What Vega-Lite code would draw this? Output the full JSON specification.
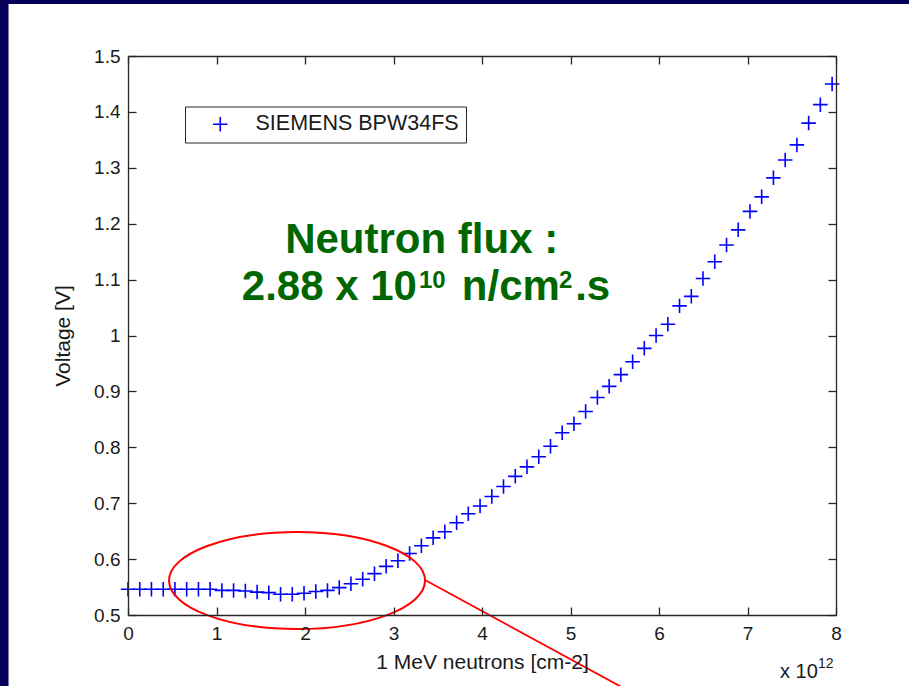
{
  "$schema": "https://vega.github.io/schema/vega-lite/v6.json",
  "width": 708,
  "height": 559,
  "autosize": {"type": "none"},
  "padding": {"left": 128, "top": 56, "right": 73, "bottom": 71},
  "background": "#07005a",
  "config": {
    "view": {"stroke": null},
    "font": "Liberation Sans",
    "axis": {
      "grid": false,
      "labelFlush": false,
      "domainColor": "#262626",
      "domainWidth": 1.3,
      "tickColor": "#262626",
      "tickWidth": 1.3,
      "tickSize": -8,
      "labelFont": "Liberation Sans",
      "labelFontSize": 19,
      "labelColor": "#1a1a1a",
      "titleFont": "Liberation Sans",
      "titleFontSize": 21,
      "titleFontWeight": "normal",
      "titleColor": "#1a1a1a"
    }
  },
  "datasets": {
    "measurements": [
      {"series": "SIEMENS BPW34FS", "fluence": 0.000, "voltage": 0.546},
      {"series": "SIEMENS BPW34FS", "fluence": 0.133, "voltage": 0.546},
      {"series": "SIEMENS BPW34FS", "fluence": 0.265, "voltage": 0.546},
      {"series": "SIEMENS BPW34FS", "fluence": 0.398, "voltage": 0.546},
      {"series": "SIEMENS BPW34FS", "fluence": 0.530, "voltage": 0.546},
      {"series": "SIEMENS BPW34FS", "fluence": 0.663, "voltage": 0.546},
      {"series": "SIEMENS BPW34FS", "fluence": 0.796, "voltage": 0.546},
      {"series": "SIEMENS BPW34FS", "fluence": 0.928, "voltage": 0.546},
      {"series": "SIEMENS BPW34FS", "fluence": 1.061, "voltage": 0.544},
      {"series": "SIEMENS BPW34FS", "fluence": 1.193, "voltage": 0.544},
      {"series": "SIEMENS BPW34FS", "fluence": 1.326, "voltage": 0.543},
      {"series": "SIEMENS BPW34FS", "fluence": 1.459, "voltage": 0.541},
      {"series": "SIEMENS BPW34FS", "fluence": 1.591, "voltage": 0.540},
      {"series": "SIEMENS BPW34FS", "fluence": 1.724, "voltage": 0.537},
      {"series": "SIEMENS BPW34FS", "fluence": 1.856, "voltage": 0.537},
      {"series": "SIEMENS BPW34FS", "fluence": 1.989, "voltage": 0.539},
      {"series": "SIEMENS BPW34FS", "fluence": 2.122, "voltage": 0.542},
      {"series": "SIEMENS BPW34FS", "fluence": 2.254, "voltage": 0.544},
      {"series": "SIEMENS BPW34FS", "fluence": 2.387, "voltage": 0.549},
      {"series": "SIEMENS BPW34FS", "fluence": 2.519, "voltage": 0.556},
      {"series": "SIEMENS BPW34FS", "fluence": 2.652, "voltage": 0.564},
      {"series": "SIEMENS BPW34FS", "fluence": 2.785, "voltage": 0.574},
      {"series": "SIEMENS BPW34FS", "fluence": 2.917, "voltage": 0.587},
      {"series": "SIEMENS BPW34FS", "fluence": 3.050, "voltage": 0.597},
      {"series": "SIEMENS BPW34FS", "fluence": 3.182, "voltage": 0.610},
      {"series": "SIEMENS BPW34FS", "fluence": 3.315, "voltage": 0.624},
      {"series": "SIEMENS BPW34FS", "fluence": 3.448, "voltage": 0.638},
      {"series": "SIEMENS BPW34FS", "fluence": 3.580, "voltage": 0.649},
      {"series": "SIEMENS BPW34FS", "fluence": 3.713, "voltage": 0.665},
      {"series": "SIEMENS BPW34FS", "fluence": 3.845, "voltage": 0.681},
      {"series": "SIEMENS BPW34FS", "fluence": 3.978, "voltage": 0.695},
      {"series": "SIEMENS BPW34FS", "fluence": 4.111, "voltage": 0.712},
      {"series": "SIEMENS BPW34FS", "fluence": 4.243, "voltage": 0.730},
      {"series": "SIEMENS BPW34FS", "fluence": 4.376, "voltage": 0.748},
      {"series": "SIEMENS BPW34FS", "fluence": 4.508, "voltage": 0.765},
      {"series": "SIEMENS BPW34FS", "fluence": 4.641, "voltage": 0.783},
      {"series": "SIEMENS BPW34FS", "fluence": 4.774, "voltage": 0.802},
      {"series": "SIEMENS BPW34FS", "fluence": 4.906, "voltage": 0.826},
      {"series": "SIEMENS BPW34FS", "fluence": 5.039, "voltage": 0.842},
      {"series": "SIEMENS BPW34FS", "fluence": 5.171, "voltage": 0.864},
      {"series": "SIEMENS BPW34FS", "fluence": 5.304, "voltage": 0.889},
      {"series": "SIEMENS BPW34FS", "fluence": 5.437, "voltage": 0.909},
      {"series": "SIEMENS BPW34FS", "fluence": 5.569, "voltage": 0.930},
      {"series": "SIEMENS BPW34FS", "fluence": 5.702, "voltage": 0.953},
      {"series": "SIEMENS BPW34FS", "fluence": 5.834, "voltage": 0.977},
      {"series": "SIEMENS BPW34FS", "fluence": 5.967, "voltage": 1.000},
      {"series": "SIEMENS BPW34FS", "fluence": 6.100, "voltage": 1.020},
      {"series": "SIEMENS BPW34FS", "fluence": 6.232, "voltage": 1.053},
      {"series": "SIEMENS BPW34FS", "fluence": 6.365, "voltage": 1.070},
      {"series": "SIEMENS BPW34FS", "fluence": 6.497, "voltage": 1.102},
      {"series": "SIEMENS BPW34FS", "fluence": 6.630, "voltage": 1.132},
      {"series": "SIEMENS BPW34FS", "fluence": 6.763, "voltage": 1.162},
      {"series": "SIEMENS BPW34FS", "fluence": 6.895, "voltage": 1.189},
      {"series": "SIEMENS BPW34FS", "fluence": 7.028, "voltage": 1.222},
      {"series": "SIEMENS BPW34FS", "fluence": 7.160, "voltage": 1.248},
      {"series": "SIEMENS BPW34FS", "fluence": 7.293, "voltage": 1.282},
      {"series": "SIEMENS BPW34FS", "fluence": 7.426, "voltage": 1.314},
      {"series": "SIEMENS BPW34FS", "fluence": 7.558, "voltage": 1.341},
      {"series": "SIEMENS BPW34FS", "fluence": 7.691, "voltage": 1.380},
      {"series": "SIEMENS BPW34FS", "fluence": 7.823, "voltage": 1.413},
      {"series": "SIEMENS BPW34FS", "fluence": 7.956, "voltage": 1.450}
    ]
  },
  "data": {"values": [{}]},
  "layer": [
    {
      "mark": {"type": "rect", "color": "#ffffff"},
      "encoding": {
        "x": {"datum": -1.35, "type": "quantitative", "scale": {"domain": [0, 8], "nice": false, "zero": false}, "axis": null},
        "x2": {"datum": 9.5},
        "y": {"datum": 1.593, "type": "quantitative", "scale": {"domain": [0.5, 1.5], "nice": false, "zero": false}, "axis": null},
        "y2": {"datum": 0.3}
      }
    },
    {
      "data": {"name": "measurements"},
      "mark": {"type": "point", "shape": "M-1,0H1M0,-1V1", "filled": false, "size": 210, "strokeWidth": 1.6, "opacity": 1},
      "encoding": {
        "x": {
          "field": "fluence", "type": "quantitative",
          "scale": {"domain": [0, 8], "nice": false, "zero": false},
          "axis": {"orient": "bottom", "zindex": 2, "labelFlush": false, "values": [0, 1, 2, 3, 4, 5, 6, 7, 8], "format": "d", "labelPadding": 17.5, "title": "1 MeV neutrons [cm-2]", "titlePadding": 8}
        },
        "y": {
          "field": "voltage", "type": "quantitative",
          "scale": {"domain": [0.5, 1.5], "nice": false, "zero": false},
          "axis": {"orient": "left", "zindex": 2, "labelFlush": false, "values": [0.5, 0.6, 0.7, 0.8, 0.9, 1, 1.1, 1.2, 1.3, 1.4, 1.5], "format": "~g", "labelPadding": 16, "title": "Voltage [V]", "titlePadding": 20}
        },
        "color": {
          "field": "series", "type": "nominal",
          "scale": {"range": ["#0000ff"]},
          "legend": {
            "orient": "none", "legendX": 57, "legendY": 50.5, "title": null, "zindex": 2,
            "fillColor": "#ffffff", "strokeColor": "#262626", "padding": 7,
            "symbolType": "M-1,0H1M0,-1V1", "symbolSize": 210, "symbolStrokeWidth": 1.6,
            "symbolOffset": 17.5, "labelOffset": 24.5, "labelLimit": 400,
            "labelFont": "Liberation Sans", "labelFontSize": 21.5, "labelColor": "#1a1a1a",
            "labelExpr": "datum.label + '\u00a0\u00a0'"
          }
        }
      }
    },
    {
      "mark": {"type": "point", "shape": "M-1,0C-1,-0.2093,-0.5523,-0.379,0,-0.379C0.5523,-0.379,1,-0.2093,1,0C1,0.2093,0.5523,0.379,0,0.379C-0.5523,0.379,-1,0.2093,-1,0Z", "filled": false, "size": 65536, "strokeWidth": 2, "color": "#ff0000", "opacity": 1},
      "encoding": {
        "x": {"datum": 1.91, "type": "quantitative", "scale": {"domain": [0, 8], "nice": false, "zero": false},
              "axis": {"orient": "top", "zindex": 2, "values": [0, 1, 2, 3, 4, 5, 6, 7, 8], "labels": false, "title": null}},
        "y": {"datum": 0.5617, "type": "quantitative", "scale": {"domain": [0.5, 1.5], "nice": false, "zero": false},
              "axis": {"orient": "right", "zindex": 2, "values": [0.5, 0.6, 0.7, 0.8, 0.9, 1, 1.1, 1.2, 1.3, 1.4, 1.5], "labels": false, "title": null}}
      }
    },
    {
      "mark": {"type": "rule", "color": "#ff0000", "strokeWidth": 1.8},
      "encoding": {
        "x": {"datum": 3.356, "type": "quantitative", "scale": {"domain": [0, 8], "nice": false, "zero": false}, "axis": null},
        "x2": {"datum": 5.785},
        "y": {"datum": 0.5626, "type": "quantitative", "scale": {"domain": [0.5, 1.5], "nice": false, "zero": false}, "axis": null},
        "y2": {"datum": 0.3533}
      }
    },
    {
      "mark": {"type": "text", "text": "Neutron flux :", "align": "left", "baseline": "alphabetic", "font": "Liberation Sans", "fontSize": 42, "fontWeight": "bold", "color": "#006600"},
      "encoding": {
        "x": {"datum": 1.776, "type": "quantitative", "scale": {"domain": [0, 8], "nice": false, "zero": false}, "axis": null},
        "y": {"datum": 1.1471, "type": "quantitative", "scale": {"domain": [0.5, 1.5], "nice": false, "zero": false}, "axis": null}
      }
    },
    {
      "mark": {"type": "text", "text": "2.88 x 10", "align": "left", "baseline": "alphabetic", "font": "Liberation Sans", "fontSize": 42, "fontWeight": "bold", "color": "#006600"},
      "encoding": {
        "x": {"datum": 1.286, "type": "quantitative", "scale": {"domain": [0, 8], "nice": false, "zero": false}, "axis": null},
        "y": {"datum": 1.0635, "type": "quantitative", "scale": {"domain": [0.5, 1.5], "nice": false, "zero": false}, "axis": null}
      }
    },
    {
      "mark": {"type": "text", "text": "10", "align": "left", "baseline": "alphabetic", "font": "Liberation Sans", "fontSize": 24, "fontWeight": "bold", "color": "#006600"},
      "encoding": {
        "x": {"datum": 3.288, "type": "quantitative", "scale": {"domain": [0, 8], "nice": false, "zero": false}, "axis": null},
        "y": {"datum": 1.085, "type": "quantitative", "scale": {"domain": [0.5, 1.5], "nice": false, "zero": false}, "axis": null}
      }
    },
    {
      "mark": {"type": "text", "text": "n/cm", "align": "left", "baseline": "alphabetic", "font": "Liberation Sans", "fontSize": 42, "fontWeight": "bold", "color": "#006600"},
      "encoding": {
        "x": {"datum": 3.772, "type": "quantitative", "scale": {"domain": [0, 8], "nice": false, "zero": false}, "axis": null},
        "y": {"datum": 1.0635, "type": "quantitative", "scale": {"domain": [0.5, 1.5], "nice": false, "zero": false}, "axis": null}
      }
    },
    {
      "mark": {"type": "text", "text": "2", "align": "left", "baseline": "alphabetic", "font": "Liberation Sans", "fontSize": 24, "fontWeight": "bold", "color": "#006600"},
      "encoding": {
        "x": {"datum": 4.87, "type": "quantitative", "scale": {"domain": [0, 8], "nice": false, "zero": false}, "axis": null},
        "y": {"datum": 1.085, "type": "quantitative", "scale": {"domain": [0.5, 1.5], "nice": false, "zero": false}, "axis": null}
      }
    },
    {
      "mark": {"type": "text", "text": ".s", "align": "left", "baseline": "alphabetic", "font": "Liberation Sans", "fontSize": 42, "fontWeight": "bold", "color": "#006600"},
      "encoding": {
        "x": {"datum": 5.053, "type": "quantitative", "scale": {"domain": [0, 8], "nice": false, "zero": false}, "axis": null},
        "y": {"datum": 1.0635, "type": "quantitative", "scale": {"domain": [0.5, 1.5], "nice": false, "zero": false}, "axis": null}
      }
    },
    {
      "mark": {"type": "text", "text": "x 10", "align": "left", "baseline": "alphabetic", "font": "Liberation Sans", "fontSize": 20, "color": "#1a1a1a"},
      "encoding": {
        "x": {"datum": 7.367, "type": "quantitative", "scale": {"domain": [0, 8], "nice": false, "zero": false}, "axis": null},
        "y": {"datum": 0.3873, "type": "quantitative", "scale": {"domain": [0.5, 1.5], "nice": false, "zero": false}, "axis": null}
      }
    },
    {
      "mark": {"type": "text", "text": "12", "align": "left", "baseline": "alphabetic", "font": "Liberation Sans", "fontSize": 14, "color": "#1a1a1a"},
      "encoding": {
        "x": {"datum": 7.797, "type": "quantitative", "scale": {"domain": [0, 8], "nice": false, "zero": false}, "axis": null},
        "y": {"datum": 0.4052, "type": "quantitative", "scale": {"domain": [0.5, 1.5], "nice": false, "zero": false}, "axis": null}
      }
    }
  ],
  "resolve": {"axis": {"x": "independent", "y": "independent"}}
}
